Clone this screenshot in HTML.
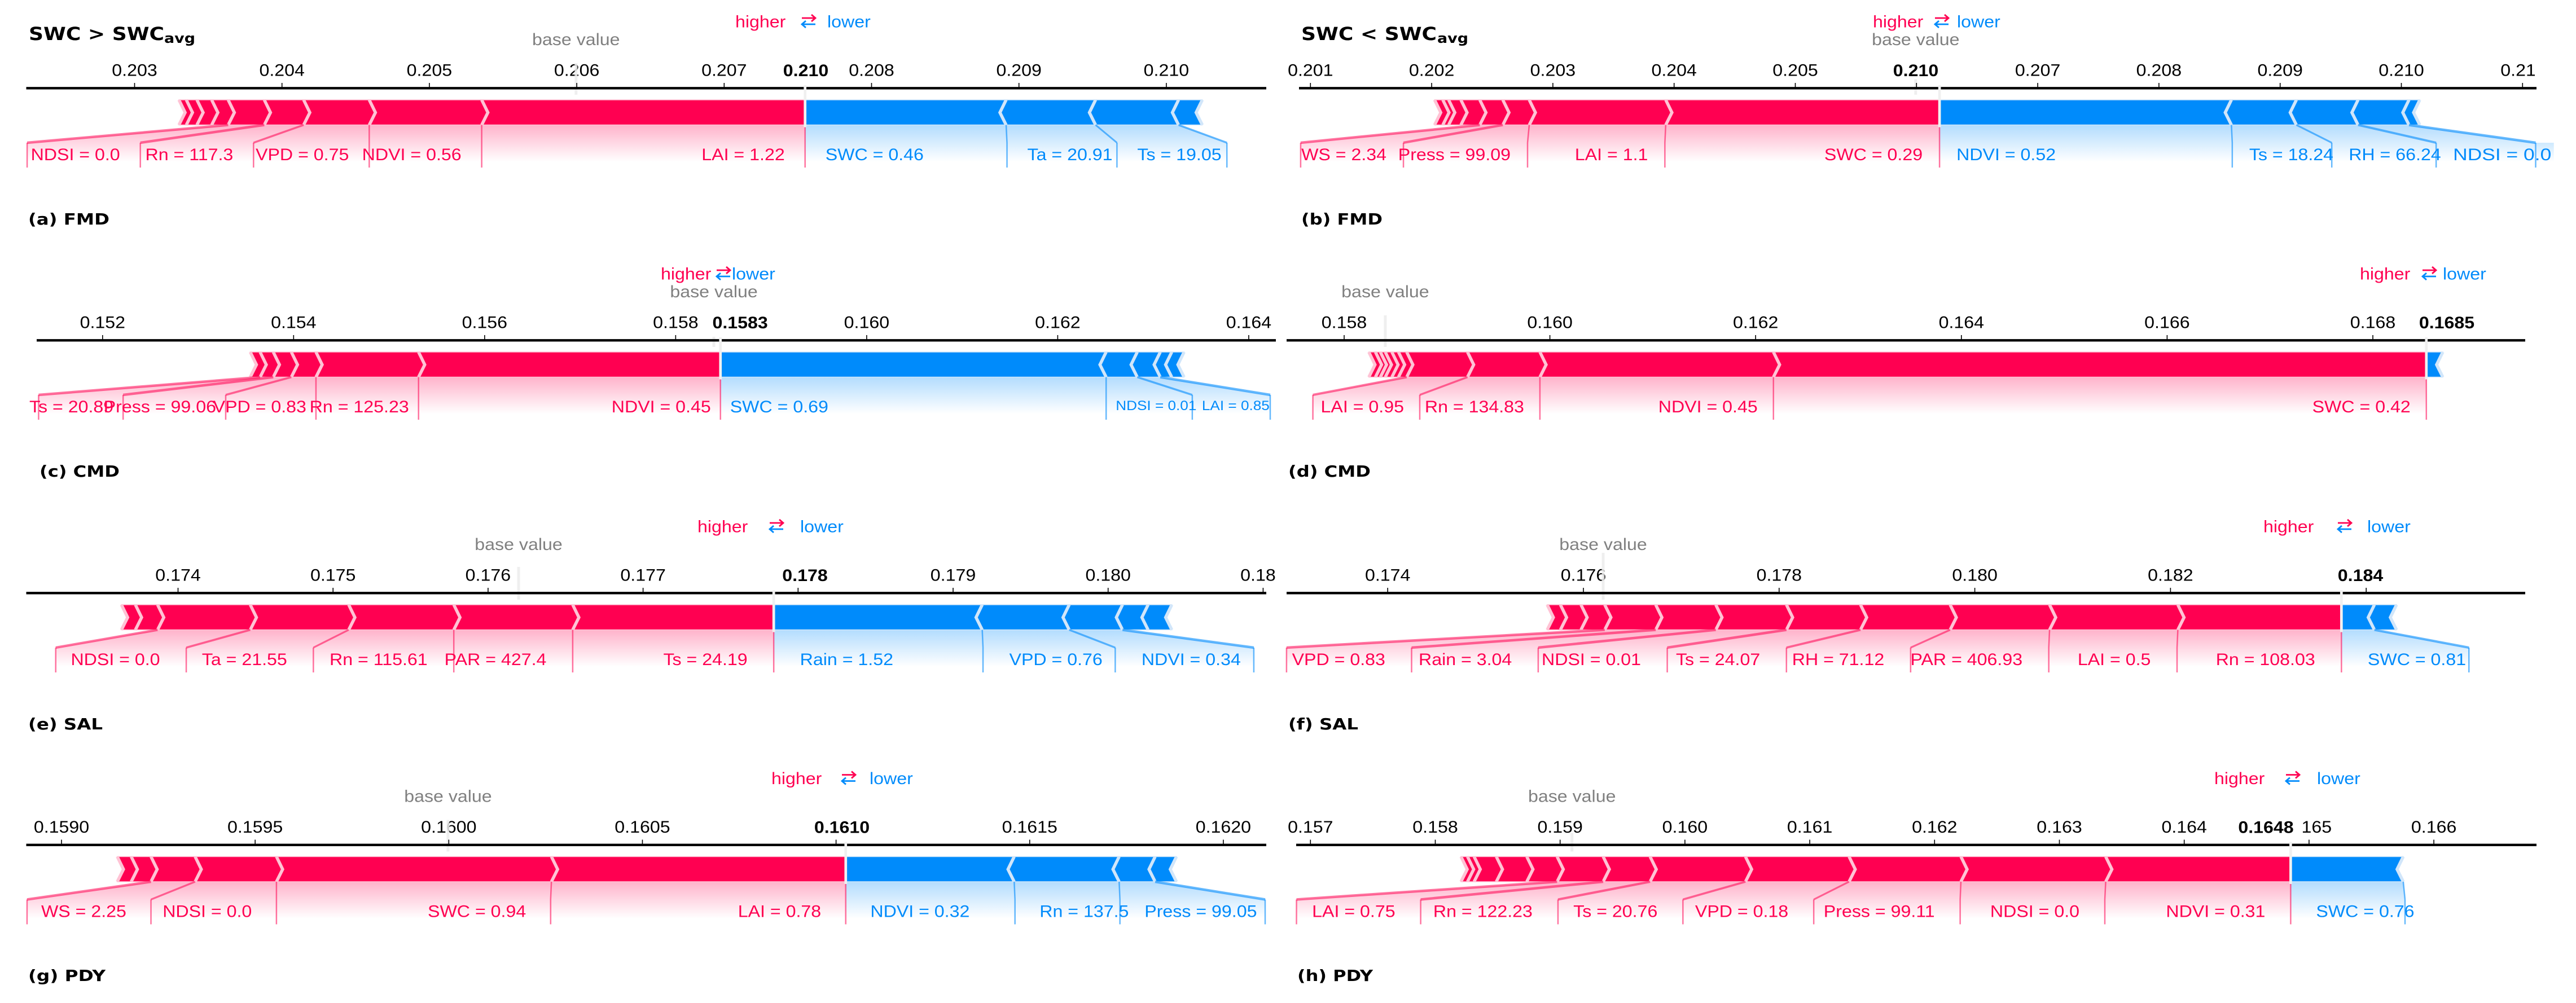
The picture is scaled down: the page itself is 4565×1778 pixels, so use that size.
<!DOCTYPE html>
<html lang="en">
<head>
<meta charset="utf-8">
<title>SHAP force plots by site and soil water content</title>
<style>
html,body{margin:0;padding:0;background:#fff;}
svg{display:block;}
text{font-family:"Liberation Sans",Arial,sans-serif;}
.caption{font-family:"DejaVu Sans",sans-serif;font-weight:700;fill:#000;}
</style>
</head>
<body>
<svg id="chart" xmlns="http://www.w3.org/2000/svg" width="4565" height="1778" viewBox="0 0 4565 1778">
<defs>
<linearGradient id="redFade" x1="0" y1="0" x2="0" y2="1"><stop offset="0" stop-color="#ff0051" stop-opacity="0.3"/><stop offset="1" stop-color="#ff0051" stop-opacity="0"/></linearGradient>
<linearGradient id="blueFade" x1="0" y1="0" x2="0" y2="1"><stop offset="0" stop-color="#008bfb" stop-opacity="0.3"/><stop offset="1" stop-color="#008bfb" stop-opacity="0"/></linearGradient>
</defs>
<rect x="0" y="0" width="4565" height="1778" fill="#fff"/>
<text class="caption" x="51" y="71" font-size="32" textLength="240" lengthAdjust="spacingAndGlyphs">SWC &gt; SWC</text>
<text class="caption" x="291" y="76" font-size="24" textLength="55" lengthAdjust="spacingAndGlyphs">avg</text>
<text class="caption" x="2306" y="71" font-size="32" textLength="240" lengthAdjust="spacingAndGlyphs">SWC &lt; SWC</text>
<text class="caption" x="2547" y="76" font-size="24" textLength="55" lengthAdjust="spacingAndGlyphs">avg</text>
<text class="caption" x="50" y="398" font-size="28" textLength="144" lengthAdjust="spacingAndGlyphs">(a) FMD</text>
<text class="caption" x="2306" y="398" font-size="28" textLength="144" lengthAdjust="spacingAndGlyphs">(b) FMD</text>
<text class="caption" x="70" y="845" font-size="28" textLength="142" lengthAdjust="spacingAndGlyphs">(c) CMD</text>
<text class="caption" x="2283" y="845" font-size="28" textLength="146" lengthAdjust="spacingAndGlyphs">(d) CMD</text>
<text class="caption" x="50" y="1293" font-size="28" textLength="132" lengthAdjust="spacingAndGlyphs">(e) SAL</text>
<text class="caption" x="2283" y="1293" font-size="28" textLength="124" lengthAdjust="spacingAndGlyphs">(f) SAL</text>
<text class="caption" x="50" y="1739" font-size="28" textLength="137" lengthAdjust="spacingAndGlyphs">(g) PDY</text>
<text class="caption" x="2299" y="1739" font-size="28" textLength="134" lengthAdjust="spacingAndGlyphs">(h) PDY</text>
</svg>
<script>
/* ---------- Panel (a) FMD, SWC above average ---------- */
const aTicks=[0.203,0.204,0.205,0.206,0.207,0.208,0.209,0.210];
const aTickLabels=['0.203','0.204','0.205','0.206','0.207','0.208','0.209','0.210'];
const aBase=0.205995;
const aOutput=0.207549;
const aOutputLabel='0.210';
const aRed=[0.203301,0.203351,0.203423,0.203523,0.203635,0.203880,0.204147,0.204592,0.205355];
const aBlue=[0.208913,0.209520,0.210083,0.210244];
const aRedLabels=['NDSI = 0.0','Rn = 117.3','VPD = 0.75','NDVI = 0.56','LAI = 1.22'];
const aRedSlots=[0.202271,0.203039,0.203807,0.204592,0.205355];
const aBlueLabels=['SWC = 0.46','Ta = 20.91','Ts = 19.05'];
const aBlueSlots=[0.208919,0.209665,0.210411];

/* ---------- Panel (b) FMD, SWC below average ---------- */
const bTicks=[0.201,0.202,0.203,0.204,0.205,0.206,0.207,0.208,0.209,0.210,0.211];
const bTickLabels=['0.201','0.202','0.203','0.204','0.205','0.206','0.207','0.208','0.209','0.210','0.211'];
const bBase=0.205993;
const bOutput=0.206190;
const bOutputLabel='0.210';
const bRed=[0.202024,0.202092,0.202140,0.202241,0.202397,0.202587,0.202805,0.203931];
const bBlue=[0.208598,0.209134,0.209643,0.210063,0.210152];
const bRedLabels=['WS = 2.34','Press = 99.09','LAI = 1.1','SWC = 0.29'];
const bRedSlots=[0.200919,0.201767,0.202791,0.203924];
const bBlueLabels=['NDVI = 0.52','Ts = 18.24','RH = 66.24','NDSI = 0.0'];
const bBlueSlots=[0.208605,0.209426,0.210287,0.211108];
const bTailEnd=[0.211258];

/* ---------- Panel (c) CMD, SWC above average ---------- */
const cTicks=[0.152,0.154,0.156,0.158,0.160,0.162,0.164];
const cTickLabels=['0.152','0.154','0.156','0.158','0.160','0.162','0.164'];
const cBase=0.158400;
const cOutput=0.158469;
const cOutputLabel='0.1583';
const cRed=[0.153546,0.153649,0.153787,0.153976,0.154234,0.155308];
const cBlue=[0.162507,0.162833,0.163074,0.163194,0.163323];
const cRedLabels=['Ts = 20.89','Press = 99.06','VPD = 0.83','Rn = 125.23','NDVI = 0.45'];
const cRedSlots=[0.151330,0.152215,0.153289,0.154234,0.155308];
const cBlueLabels=['SWC = 0.69','NDSI = 0.01','LAI = 0.85'];
const cBlueSlots=[0.162507,0.163409,0.164225];

/* ---------- Panel (d) CMD, SWC below average ---------- */
const dTicks=[0.158,0.160,0.162,0.164,0.166,0.168];
const dTickLabels=['0.158','0.160','0.162','0.164','0.166','0.168'];
const dBase=0.158400;
const dOutput=0.168520;
const dOutputLabel='0.1685';
const dRed=[0.158240,0.158304,0.158352,0.158400,0.158464,0.158528,0.158608,0.159199,0.159903,0.162173];
const dBlue=[0.168680];
const dRedLabels=['LAI = 0.95','Rn = 134.83','NDVI = 0.45','SWC = 0.42'];
const dRedSlots=[0.157696,0.158735,0.159903,0.162173];
const dBlueLabels=[];
const dBlueSlots=[];

/* ---------- Panel (e) SAL, SWC above average ---------- */
const eTicks=[0.174,0.175,0.176,0.177,0.178,0.179,0.180,0.181];
const eTickLabels=['0.174','0.175','0.176','0.177','0.178','0.179','0.180','0.181'];
const eBase=0.176197;
const eOutput=0.177843;
const eOutputLabel='0.178';
const eRed=[0.173635,0.173725,0.173868,0.174466,0.175101,0.175779,0.176546];
const eBlue=[0.179188,0.179749,0.180093,0.180258,0.180411];
const eRedLabels=['NDSI = 0.0','Ta = 21.55','Rn = 115.61','PAR = 427.4','Ts = 24.19'];
const eRedSlots=[0.173211,0.174053,0.174873,0.175779,0.176546];
const eBlueLabels=['Rain = 1.52','VPD = 0.76','NDVI = 0.34'];
const eBlueSlots=[0.179193,0.180046,0.180940];

/* ---------- Panel (f) SAL, SWC below average ---------- */
const fTicks=[0.174,0.176,0.178,0.180,0.182,0.184];
const fTickLabels=['0.174','0.176','0.178','0.180','0.182','0.184'];
const fBase=0.176202;
const fOutput=0.183747;
const fOutputLabel='0.184';
const fRed=[0.175630,0.175765,0.175975,0.176218,0.176739,0.177353,0.178075,0.178832,0.179748,0.180764,0.182075];
const fBlue=[0.184084,0.184310];
const fRedLabels=['VPD = 0.83','Rain = 3.04','NDSI = 0.01','Ts = 24.07','RH = 71.12','PAR = 406.93','LAI = 0.5','Rn = 108.03'];
const fRedSlots=[0.172966,0.174244,0.175538,0.176857,0.178075,0.179344,0.180756,0.182067];
const fBlueLabels=['SWC = 0.81'];
const fBlueSlots=[0.185050];

/* ---------- Panel (g) PDY, SWC above average ---------- */
const gTicks=[0.1590,0.1595,0.1600,0.1605,0.1610,0.1615,0.1620];
const gTickLabels=['0.1590','0.1595','0.1600','0.1605','0.1610','0.1615','0.1620'];
const gBase=0.159998;
const gOutput=0.161025;
const gOutputLabel='0.1610';
const gRed=[0.159144,0.159180,0.159231,0.159345,0.159555,0.160265];
const gBlue=[0.161460,0.161731,0.161824,0.161879];
const gRedLabels=['WS = 2.25','NDSI = 0.0','SWC = 0.94','LAI = 0.78'];
const gRedSlots=[0.158911,0.159231,0.159555,0.160263];
const gBlueLabels=['NDVI = 0.32','Rn = 137.5','Press = 99.05'];
const gBlueSlots=[0.161462,0.161733,0.162108];

/* ---------- Panel (h) PDY, SWC below average ---------- */
const hTicks=[0.157,0.158,0.159,0.160,0.161,0.162,0.163,0.164,0.165,0.166];
const hTickLabels=['0.157','0.158','0.159','0.160','0.161','0.162','0.163','0.164','0.165','0.166'];
const hBase=0.159095;
const hOutput=0.164853;
const hOutputLabel='0.1648';
const hRed=[0.158206,0.158258,0.158311,0.158489,0.158733,0.158976,0.159345,0.159721,0.160485,0.161315,0.162211,0.163371];
const hBlue=[0.165755];
const hRedLabels=['LAI = 0.75','Rn = 122.23','Ts = 20.76','VPD = 0.18','Press = 99.11','NDSI = 0.0','NDVI = 0.31'];
const hRedSlots=[0.156888,0.157883,0.158983,0.159984,0.161032,0.162205,0.163364];
const hBlueLabels=['SWC = 0.76'];
const hBlueSlots=[0.165769];

/* Axis calibration and layout for each panel */
const panels=[
 {ticks:aTicks,tickLabels:aTickLabels,base:aBase,output:aOutput,outputLabel:aOutputLabel,red:aRed,blue:aBlue,redLabels:aRedLabels,redSlots:aRedSlots,blueLabels:aBlueLabels,blueSlots:aBlueSlots,tail:[],
  dy:0,d0:0.203,r0:238.5,k:261200,axis:[46.5,2244],gap:36,higher:1303,arrow:1421,lower:1466,outX:1428,baseTop:112,clip:4565,halo:12,smallFrom:99,wideFrom:99},
 {ticks:bTicks,tickLabels:bTickLabels,base:bBase,output:bOutput,outputLabel:bOutputLabel,red:bRed,blue:bBlue,redLabels:bRedLabels,redSlots:bRedSlots,blueLabels:bBlueLabels,blueSlots:bBlueSlots,tail:bTailEnd,
  dy:0,d0:0.201,r0:2322.3,k:214800,axis:[2302,4495],gap:30,higher:3319,arrow:3429,lower:3468,outX:3395,baseTop:112,clip:4492,halo:12,smallFrom:99,wideFrom:3},
 {ticks:cTicks,tickLabels:cTickLabels,base:cBase,output:cOutput,outputLabel:cOutputLabel,red:cRed,blue:cBlue,redLabels:cRedLabels,redSlots:cRedSlots,blueLabels:cBlueLabels,blueSlots:cBlueSlots,tail:[],
  dy:447,d0:0.152,r0:181.8,k:169260,axis:[65,2261],gap:17,higher:1171,arrow:1270,lower:1297,outX:1311.6,baseTop:150,clip:4565,halo:12,smallFrom:1,wideFrom:99},
 {ticks:dTicks,tickLabels:dTickLabels,base:dBase,output:dOutput,outputLabel:dOutputLabel,red:dRed,blue:dBlue,redLabels:dRedLabels,redSlots:dRedSlots,blueLabels:dBlueLabels,blueSlots:dBlueSlots,tail:[],
  dy:447,d0:0.158,r0:2382,k:182300,axis:[2280,4475],gap:28,higher:4182,arrow:4293,lower:4329,outX:4336,baseTop:112,clip:4565,halo:12,smallFrom:99,wideFrom:99},
 {ticks:eTicks,tickLabels:eTickLabels,base:eBase,output:eOutput,outputLabel:eOutputLabel,red:eRed,blue:eBlue,redLabels:eRedLabels,redSlots:eRedSlots,blueLabels:eBlueLabels,blueSlots:eBlueSlots,tail:[],
  dy:895,d0:0.174,r0:315.5,k:274700,axis:[46.5,2244],gap:46.5,higher:1236,arrow:1364,lower:1418,outX:1426.5,baseTop:110,clip:2262,halo:12,smallFrom:99,wideFrom:99},
 {ticks:fTicks,tickLabels:fTickLabels,base:fBase,output:fOutput,outputLabel:fOutputLabel,red:fRed,blue:fBlue,redLabels:fRedLabels,redSlots:fRedSlots,blueLabels:fBlueLabels,blueSlots:fBlueSlots,tail:[],
  dy:895,d0:0.174,r0:2459.2,k:173400,axis:[2280,4475],gap:46.6,higher:4011,arrow:4143,lower:4195,outX:4183,baseTop:85,clip:4565,halo:14,smallFrom:99,wideFrom:99},
 {ticks:gTicks,tickLabels:gTickLabels,base:gBase,output:gOutput,outputLabel:gOutputLabel,red:gRed,blue:gBlue,redLabels:gRedLabels,redSlots:gRedSlots,blueLabels:gBlueLabels,blueSlots:gBlueSlots,tail:[],
  dy:1341.5,d0:0.159,r0:109,k:686300,axis:[46.5,2244],gap:43.6,higher:1367,arrow:1492,lower:1541,outX:1492,baseTop:112,clip:4565,halo:12,smallFrom:99,wideFrom:99},
 {ticks:hTicks,tickLabels:hTickLabels,base:hBase,output:hOutput,outputLabel:hOutputLabel,red:hRed,blue:hBlue,redLabels:hRedLabels,redSlots:hRedSlots,blueLabels:hBlueLabels,blueSlots:hBlueSlots,tail:[],
  dy:1341.5,d0:0.157,r0:2322.3,k:221200,axis:[2297,4495],gap:45,higher:3924,arrow:4051,lower:4106,outX:4015.5,baseTop:135,clip:4565,halo:12,smallFrom:99,wideFrom:99}
];

const RED='#ff0051',BLUE='#008bfb',PALE_RED='#ffc3d5',PALE_BLUE='#d1e6fa';
const Y={axis:156.3,tickTop:147,tickText:134.5,barTop:177,barMid:199.5,barBot:221.5,slot:253,fadeEnd:287,dropEnd:297,label:284,smallLabel:280,higher:48.5,baseText:80};
const TIP=11,STRETCH=1.09,WIDE=1.2,FONT=29.5;
const NS='http://www.w3.org/2000/svg';
const svg=document.getElementById('chart');

function make(tag,attrs,parent){
  const el=document.createElementNS(NS,tag);
  for(const key in attrs){el.setAttribute(key,attrs[key]);}
  parent.appendChild(el);
  return el;
}
function label(parent,x,y,str,fill,anchor,size,weight,sx){
  const el=make('text',{transform:'translate('+x+','+y+') scale('+(sx||STRETCH)+',1)','text-anchor':anchor,'font-size':size,fill:fill,'font-weight':weight||'400'},parent);
  el.textContent=str;
  return el;
}
function chevron(x,tip,dy){
  return x+','+(Y.barTop+dy)+' '+(x+tip)+','+(Y.barMid+dy)+' '+x+','+(Y.barBot+dy);
}
function slantWidth(a,b){
  return 2.5+Math.min(2,Math.abs(a-b)/100);
}

panels.forEach(function(p,index){
  const x=function(v){return p.r0+(v-p.d0)*p.k;};
  const d=p.dy;
  const g=make('g',{},svg);
  
  

  /* gradient fans below the bar */
  const nr=p.redLabels.length;
  const redConnected=p.red.slice(p.red.length-nr);
  p.redLabels.forEach(function(t,i){
    const e0=x(redConnected[i]);
    const e1=x(i+1<nr?redConnected[i+1]:p.output);
    const s0=x(p.redSlots[i]);
    const s1=x(i+1<nr?p.redSlots[i+1]:p.output);
    const pts=[[e0,Y.barBot],[e1,Y.barBot],[s1,Y.slot],[s1,Y.fadeEnd],[s0,Y.fadeEnd],[s0,Y.slot]].map(function(q){return q[0]+','+(q[1]+d);}).join(' ');
    const area=make('polygon',{points:pts,fill:'url(#redFade)'},g);
    
    
  });
  p.blueLabels.forEach(function(t,i){
    const e0=x(i===0?p.output:p.blue[i-1]);
    const e1=x(p.blue[i]);
    const s0=x(i===0?p.output:p.blueSlots[i-1]);
    const s1=x(p.blueSlots[i]);
    const pts=[[e0,Y.barBot],[e1,Y.barBot],[s1,Y.slot],[s1,Y.fadeEnd],[s0,Y.fadeEnd],[s0,Y.slot]].map(function(q){return q[0]+','+(q[1]+d);}).join(' ');
    const area=make('polygon',{points:pts,fill:'url(#blueFade)'},g);
    
    
  });
  p.tail.forEach(function(v){
    const s=x(p.blueSlots[p.blueSlots.length-1]);
    const rest=make('rect',{x:s,y:Y.slot+d,width:x(v)-s,height:Y.fadeEnd-Y.slot,fill:'url(#blueFade)','fill-opacity':0.65},g);
    
    
  });

  /* bar segments */
  const redEdges=p.red.concat([p.output]);
  for(let i=0;i<redEdges.length-1;i++){
    const left=x(redEdges[i]);
    const right=x(redEdges[i+1]);
    const last=i===redEdges.length-2;
    const pts=chevron(left,TIP,d)+' '+right+','+(Y.barBot+d)+' '+(last?right:right+TIP)+','+(Y.barMid+d)+' '+right+','+(Y.barTop+d);
    const seg=make('polygon',{points:pts,fill:RED,stroke:PALE_RED,'stroke-width':1.5},g);
    
    
  }
  const blueEdges=[p.output].concat(p.blue);
  for(let i=0;i<blueEdges.length-1;i++){
    const left=x(blueEdges[i]);
    const right=x(blueEdges[i+1]);
    const first=i===0;
    const pts=left+','+(Y.barTop+d)+' '+(first?left:left-TIP)+','+(Y.barMid+d)+' '+left+','+(Y.barBot+d)+' '+right+','+(Y.barBot+d)+' '+(right-TIP)+','+(Y.barMid+d)+' '+right+','+(Y.barTop+d);
    const seg=make('polygon',{points:pts,fill:BLUE,stroke:PALE_BLUE,'stroke-width':1.5},g);
    
    
  }
  p.red.forEach(function(v){
    const sep=make('polyline',{points:chevron(x(v),TIP,d),fill:'none',stroke:PALE_RED,'stroke-width':5.5,'stroke-linejoin':'miter'},g);
    
    
  });
  p.blue.forEach(function(v){
    const sep=make('polyline',{points:chevron(x(v),-TIP,d),fill:'none',stroke:PALE_BLUE,'stroke-width':5.5,'stroke-linejoin':'miter'},g);
    
    
  });

  /* drop lines from the bar to the label slots */
  p.redLabels.forEach(function(t,i){
    const from=x(redConnected[i]);
    const to=x(p.redSlots[i]);
    const slant=make('line',{x1:from,y1:Y.barBot+d,x2:to,y2:Y.slot+d,stroke:RED,'stroke-opacity':0.55,'stroke-width':slantWidth(from,to)},g);
    
    
    const drop=make('line',{x1:to,y1:Y.slot+d,x2:to,y2:Y.dropEnd+d,stroke:RED,'stroke-opacity':0.55,'stroke-width':2.5},g);
    
    
  });
  const outDrop=make('path',{d:'M'+x(p.output)+' '+(Y.barBot+d)+'V'+(Y.dropEnd+d),fill:'none',stroke:RED,'stroke-opacity':0.55,'stroke-width':2.5},g);
  
  
  p.blueLabels.forEach(function(t,i){
    const from=x(p.blue[i]);
    const to=x(p.blueSlots[i]);
    const slant=make('line',{x1:from,y1:Y.barBot+d,x2:to,y2:Y.slot+d,stroke:BLUE,'stroke-opacity':0.6,'stroke-width':slantWidth(from,to)},g);
    
    
    const drop=make('line',{x1:to,y1:Y.slot+d,x2:to,y2:Y.dropEnd+d,stroke:BLUE,'stroke-opacity':0.6,'stroke-width':2.5},g);
    
    
  });

  /* feature labels */
  p.redLabels.forEach(function(t,i){
    const right=x(i+1<nr?p.redSlots[i+1]:p.output)-p.gap;
    const el=label(g,right,Y.label+d,t,RED,'end',FONT);
    
    
  });
  p.blueLabels.forEach(function(t,i){
    const left=x(i===0?p.output:p.blueSlots[i-1])+p.gap;
    const small=i>=p.smallFrom;
    const el=label(g,left,(small?Y.smallLabel:Y.label)+d,t,BLUE,'start',small?24:FONT,'400',i>=p.wideFrom?WIDE:STRETCH);
    
    
  });

  /* tick labels, clipped where the reference cuts them */
  const clipId='tickClip'+index;
  const clip=make('clipPath',{id:clipId},svg);
  make('rect',{x:0,y:0,width:p.clip,height:1778},clip);
  const tickGroup=make('g',{'clip-path':'url(#'+clipId+')'},g);
  
  
  p.ticks.forEach(function(v,i){
    const el=label(tickGroup,x(v),Y.tickText+d,p.tickLabels[i],'#000','middle',FONT);
    
    
  });

  /* base value marker */
  const baseLine=make('line',{x1:x(p.base),x2:x(p.base),y1:p.baseTop+d,y2:168+d,stroke:'#ececec','stroke-opacity':0.85,'stroke-width':5},g);
  
  
  const baseText=label(g,x(p.base),Y.baseText+d,'base value','#808080','middle',FONT);
  
  

  /* axis */
  const axisLine=make('line',{x1:p.axis[0],x2:p.axis[1],y1:Y.axis+d,y2:Y.axis+d,stroke:'#000','stroke-width':4.4},g);
  
  
  p.ticks.forEach(function(v){
    const tick=make('line',{x1:x(v),x2:x(v),y1:Y.tickTop+d,y2:Y.axis+d,stroke:'#000','stroke-width':1.6},g);
    
    
  });

  /* output value */
  const outText=label(g,p.outX,Y.tickText+0.5+d,p.outputLabel,'#000','middle',FONT,'700');
  
  
  if(p.halo>0){
    const w=outText.getComputedTextLength()*STRETCH;
    const halo=make('rect',{x:p.outX-w/2-p.halo,y:Y.tickText-24+d,width:w+2*p.halo,height:30,fill:'#fff'},g);
    
    
    g.insertBefore(halo,outText);
  }
  const outLine=make('line',{x1:x(p.output),x2:x(p.output),y1:151+d,y2:Y.barBot+4+d,stroke:'#f0f0f0','stroke-width':4.7},g);
  
  

  /* higher / lower legend */
  const hi=label(g,p.higher,Y.higher+d,'higher',RED,'start',FONT);
  
  
  const lo=label(g,p.lower,Y.higher+d,'lower',BLUE,'start',FONT);
  
  
  const ax=p.arrow;
  const up=make('path',{d:'M'+ax+' '+(32+d)+'H'+(ax+24)+'M'+(ax+17)+' '+(26+d)+'L'+(ax+24)+' '+(32+d)+'L'+(ax+17)+' '+(38+d),fill:'none',stroke:RED,'stroke-width':2.8},g);
  
  
  const down=make('path',{d:'M'+(ax+24)+' '+(43+d)+'H'+ax+'M'+(ax+7)+' '+(37+d)+'L'+ax+' '+(43+d)+'L'+(ax+7)+' '+(49+d),fill:'none',stroke:BLUE,'stroke-width':2.8},g);
  
  
});
</script>
</body>
</html>
